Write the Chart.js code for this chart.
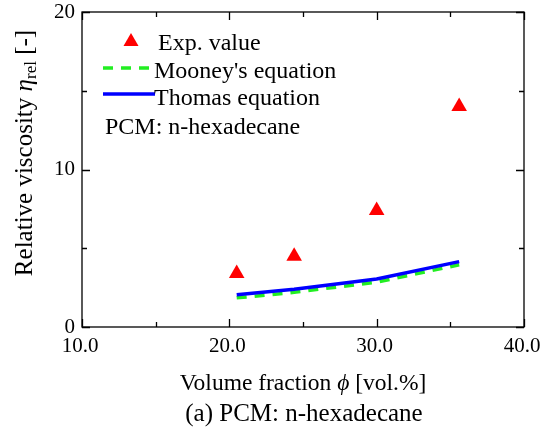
<!DOCTYPE html>
<html>
<head>
<meta charset="utf-8">
<script src="https://cdn.jsdelivr.net/npm/chart.js@4/dist/chart.umd.min.js"></script>
<style>
  html, body { margin: 0; padding: 0; background: #fff; }
  #wrap { width: 540px; height: 439px; }
</style>
</head>
<body>
<div id="wrap"><canvas id="c" width="540" height="439"></canvas></div>
<script>
// Volume fraction (vol.%) of the measured samples
const phi = [20.5, 24.4, 30.0, 35.6];
// Measured relative viscosity
const expValue = [3.4, 4.5, 7.4, 14.0];
// Model predictions at the same fractions
const mooney = [1.85, 2.2, 2.85, 3.95];
const thomas = [2.05, 2.4, 3.05, 4.15];
// Axis ticks
const xTicks = [10, 20, 30, 40];
const yTicks = [0, 10, 20];

const SERIF = '"Liberation Serif", "Times New Roman", serif';

const pts = (xs, ys) => xs.map((x, i) => ({ x: x, y: ys[i] }));

// Frame with inward ticks on all four sides, plus titles, caption and legend
const decor = {
  id: 'decor',
  afterDraw(chart) {
    const { ctx, chartArea: a, scales: { x, y } } = chart;
    ctx.save();
    ctx.strokeStyle = '#000';
    ctx.lineWidth = 1.3;
    ctx.strokeRect(a.left, a.top, a.right - a.left, a.bottom - a.top);
    const major = 8, minor = 5;
    for (let v = 10; v <= 40; v += 5) {
      const px = Math.round(x.getPixelForValue(v)) + 0.5;
      const len = v % 10 === 0 ? major : minor;
      ctx.beginPath();
      ctx.moveTo(px, a.bottom); ctx.lineTo(px, a.bottom - len);
      ctx.moveTo(px, a.top); ctx.lineTo(px, a.top + len);
      ctx.stroke();
    }
    for (let v = 0; v <= 20; v += 5) {
      const py = Math.round(y.getPixelForValue(v)) + 0.5;
      const len = v % 10 === 0 ? major : minor;
      ctx.beginPath();
      ctx.moveTo(a.left, py); ctx.lineTo(a.left + len, py);
      ctx.moveTo(a.right, py); ctx.lineTo(a.right - len, py);
      ctx.stroke();
    }

    ctx.fillStyle = '#000';
    ctx.textBaseline = 'alphabetic';

    // x-axis title with italic phi
    const xParts = [
      { t: 'Volume fraction ', f: '23.5px ' + SERIF },
      { t: '\u03D5', f: 'italic 23.5px ' + SERIF },
      { t: ' [vol.%]', f: '23.5px ' + SERIF }
    ];
    let w = 0;
    xParts.forEach(p => { ctx.font = p.f; w += ctx.measureText(p.t).width; });
    let cx = 303 - w / 2;
    xParts.forEach(p => { ctx.font = p.f; ctx.fillText(p.t, cx, 390); cx += ctx.measureText(p.t).width; });

    // caption
    ctx.font = '25px ' + SERIF;
    ctx.textAlign = 'center';
    ctx.fillText('(a) PCM: n-hexadecane', 304, 421);
    ctx.textAlign = 'left';

    // y-axis title, rotated, italic eta with subscript "rel"
    ctx.save();
    ctx.translate(32, 153);
    ctx.rotate(-Math.PI / 2);
    const yParts = [
      { t: 'Relative viscosity ', f: '25px ' + SERIF, dy: 0 },
      { t: '\u03B7', f: 'italic 25px ' + SERIF, dy: 0 },
      { t: 'rel', f: '17px ' + SERIF, dy: 4 },
      { t: ' [-]', f: '25px ' + SERIF, dy: 0 }
    ];
    w = 0;
    yParts.forEach(p => { ctx.font = p.f; w += ctx.measureText(p.t).width; });
    cx = -w / 2;
    yParts.forEach(p => { ctx.font = p.f; ctx.fillText(p.t, cx, p.dy); cx += ctx.measureText(p.t).width; });
    ctx.restore();

    // legend
    ctx.font = '24px ' + SERIF;
    ctx.fillStyle = '#ff0000';
    ctx.beginPath();
    ctx.moveTo(131, 33); ctx.lineTo(138.5, 46); ctx.lineTo(123.5, 46); ctx.closePath();
    ctx.fill();
    ctx.fillStyle = '#000';
    ctx.fillText('Exp. value', 158, 50);
    ctx.strokeStyle = '#22ee22';
    ctx.lineWidth = 3.5;
    ctx.setLineDash([10, 8]);
    ctx.beginPath(); ctx.moveTo(103, 68); ctx.lineTo(155, 68); ctx.stroke();
    ctx.setLineDash([]);
    ctx.fillText("Mooney's equation", 154, 78);
    ctx.strokeStyle = '#0000ff';
    ctx.beginPath(); ctx.moveTo(103, 94); ctx.lineTo(155, 94); ctx.stroke();
    ctx.fillText('Thomas equation', 154, 105);
    ctx.fillText('PCM: n-hexadecane', 105, 134);
    ctx.restore();
  }
};

new Chart(document.getElementById('c'), {
  type: 'scatter',
  data: {
    datasets: [
      {
        label: 'Exp. value',
        data: pts(phi, expValue),
        pointStyle: 'triangle',
        pointRadius: 9,
        pointHoverRadius: 9,
        backgroundColor: '#ff0000',
        borderColor: '#ff0000',
        borderWidth: 0,
        showLine: false,
        order: 0
      },
      {
        label: "Mooney's equation",
        data: pts(phi, mooney),
        showLine: true,
        borderColor: '#22ee22',
        borderWidth: 3.5,
        borderDash: [10, 8],
        pointRadius: 0,
        order: 2
      },
      {
        label: 'Thomas equation',
        data: pts(phi, thomas),
        showLine: true,
        borderColor: '#0000ff',
        borderWidth: 3.5,
        pointRadius: 0,
        order: 1
      }
    ]
  },
  options: {
    responsive: false,
    animation: false,
    layout: { padding: { top: 12, right: 16, left: 0, bottom: 0 } },
    plugins: { legend: { display: false }, tooltip: { enabled: false } },
    scales: {
      x: {
        type: 'linear',
        min: 10, max: 40,
        afterBuildTicks: s => { s.ticks = xTicks.map(v => ({ value: v })); },
        afterFit: s => { s.height = 112; s.paddingLeft = 0; s.paddingRight = 0; },
        grid: { display: false, drawTicks: false },
        border: { display: false },
        ticks: {
          color: '#000',
          padding: 7,
          labelOffset: -2,
          font: { family: SERIF, size: 21 },
          callback: v => v.toFixed(1)
        }
      },
      y: {
        type: 'linear',
        min: 0, max: 20,
        afterBuildTicks: s => { s.ticks = yTicks.map(v => ({ value: v })); },
        afterFit: s => { s.width = 82; s.paddingTop = 0; s.paddingBottom = 0; },
        grid: { display: false, drawTicks: false },
        border: { display: false },
        ticks: {
          color: '#000',
          padding: 7,
          font: { family: SERIF, size: 21 }
        }
      }
    }
  },
  plugins: [decor]
});
</script>
</body>
</html>
